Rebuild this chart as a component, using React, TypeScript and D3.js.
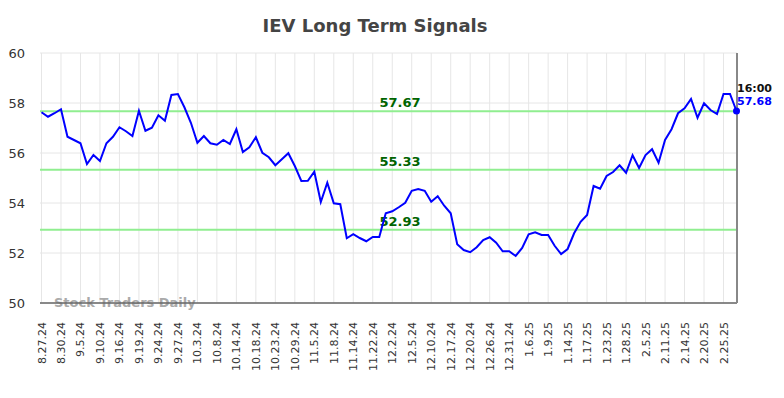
import React, { useEffect, useRef } from 'react';
import * as d3 from 'd3';

// axis labels, one every third session
const dateLabels = [
  '8.27.24', '8.30.24', '9.5.24', '9.10.24', '9.16.24', '9.19.24', '9.24.24', '9.27.24',
  '10.3.24', '10.8.24', '10.14.24', '10.18.24', '10.23.24', '10.29.24', '11.5.24', '11.8.24',
  '11.14.24', '11.22.24', '12.2.24', '12.5.24', '12.10.24', '12.17.24', '12.20.24', '12.26.24',
  '12.31.24', '1.6.25', '1.9.25', '1.14.25', '1.17.25', '1.23.25', '1.28.25', '2.5.25',
  '2.11.25', '2.14.25', '2.20.25', '2.25.25',
];

// closing prices
const prices = [
  57.63, 57.45, 57.59, 57.75, 56.65, 56.52, 56.39, 55.56, 55.92, 55.68,
  56.39, 56.65, 57.03, 56.87, 56.68, 57.69, 56.89, 57.01, 57.51, 57.29,
  58.32, 58.36, 57.83, 57.21, 56.41, 56.68, 56.39, 56.33, 56.52, 56.36,
  56.95, 56.04, 56.23, 56.63, 56.01, 55.83, 55.51, 55.75, 55.99, 55.48,
  54.88, 54.89, 55.25, 54.04, 54.81, 53.99, 53.95, 52.59, 52.75, 52.6,
  52.47, 52.64, 52.64, 53.59, 53.67, 53.83, 54.01, 54.49, 54.56, 54.49,
  54.05, 54.27, 53.89, 53.59, 52.35, 52.12, 52.03, 52.23, 52.52, 52.63,
  52.41, 52.07, 52.07, 51.88, 52.2, 52.75, 52.83, 52.72, 52.72, 52.29,
  51.96, 52.16, 52.79, 53.25, 53.52, 54.68, 54.57, 55.08, 55.24, 55.51,
  55.21, 55.91, 55.4, 55.92, 56.15, 55.61, 56.52, 56.95, 57.59, 57.79,
  58.16, 57.41, 57.99, 57.72, 57.56, 58.36, 58.36, 57.68,
];

const signalLevels = [57.67, 55.33, 52.93];
const yTicks = [50, 52, 54, 56, 58, 60];
const lastTime = '16:00';

const W = 784;
const H = 398;
const FONT = 'DejaVu Sans, sans-serif';

export default function App() {
  const ref = useRef<SVGSVGElement>(null);

  useEffect(() => {
    const svg = d3.select(ref.current);
    svg.selectAll('*').remove();

    const left = 40;
    const right = 737;
    const top = 53;
    const bottom = 303;

    const x = d3.scaleLinear().domain([0, prices.length - 1]).range([41.5, 736.5]);
    const y = d3.scaleLinear().domain([50, 60]).range([bottom, top]);

    // title
    svg.append('text')
      .attr('x', 375).attr('y', 32)
      .attr('text-anchor', 'middle')
      .style('font-family', FONT).style('font-size', '18px').style('font-weight', 'bold')
      .style('fill', '#444')
      .text('IEV Long Term Signals');

    // grid
    const grid = svg.append('g');
    grid.selectAll('.hg').data(yTicks).enter().append('line')
      .attr('x1', left).attr('x2', right)
      .attr('y1', d => y(d)).attr('y2', d => y(d))
      .attr('stroke', '#e6e6e6').attr('stroke-width', 1);
    grid.selectAll('.vg').data(dateLabels).enter().append('line')
      .attr('x1', (d, i) => x(i * 3)).attr('x2', (d, i) => x(i * 3))
      .attr('y1', top).attr('y2', bottom)
      .attr('stroke', '#e6e6e6').attr('stroke-width', 1);

    // y labels
    svg.selectAll('.yl').data(yTicks).enter().append('text')
      .attr('x', 25).attr('y', d => y(d))
      .attr('dy', '0.35em')
      .attr('text-anchor', 'end')
      .style('font-family', FONT).style('font-size', '13px').style('fill', '#333')
      .text(d => d);

    // x labels
    svg.selectAll('.xl').data(dateLabels).enter().append('text')
      .attr('transform', (d, i) => `translate(${x(i * 3) + 4},322) rotate(-90)`)
      .attr('text-anchor', 'end')
      .style('font-family', FONT).style('font-size', '11px').style('fill', '#333')
      .text(d => d);

    // signal levels
    svg.selectAll('.sl').data(signalLevels).enter().append('line')
      .attr('x1', left).attr('x2', right)
      .attr('y1', d => y(d)).attr('y2', d => y(d))
      .attr('stroke', '#90ee90').attr('stroke-width', 2);
    svg.selectAll('.slt').data(signalLevels).enter().append('text')
      .attr('x', 400).attr('y', d => y(d) - 4)
      .attr('text-anchor', 'middle')
      .style('font-family', FONT).style('font-size', '13px').style('font-weight', 'bold')
      .style('fill', '#006400')
      .text(d => d.toFixed(2));

    // watermark
    svg.append('text')
      .attr('x', 54).attr('y', 307)
      .style('font-family', FONT).style('font-size', '13px').style('font-weight', 'bold')
      .style('fill', '#aaa')
      .text('Stock Traders Daily');

    // price line
    const line = d3.line<number>()
      .x((d, i) => x(i))
      .y(d => y(d));
    svg.append('path')
      .datum(prices)
      .attr('d', line)
      .attr('fill', 'none')
      .attr('stroke', '#0000ff')
      .attr('stroke-width', 2);

    // axis + current marker line
    svg.append('line')
      .attr('x1', left).attr('x2', right)
      .attr('y1', bottom).attr('y2', bottom)
      .attr('stroke', '#666').attr('stroke-width', 1.5);
    svg.append('line')
      .attr('x1', right).attr('x2', right)
      .attr('y1', top).attr('y2', bottom)
      .attr('stroke', '#888').attr('stroke-width', 2);

    const last = prices[prices.length - 1];
    svg.append('circle')
      .attr('cx', x(prices.length - 1)).attr('cy', y(last))
      .attr('r', 3.5).attr('fill', '#0000ff');

    svg.append('text')
      .attr('x', 737).attr('y', 92)
      .style('font-family', FONT).style('font-size', '11px').style('font-weight', 'bold')
      .style('fill', '#111')
      .text(lastTime);
    svg.append('text')
      .attr('x', 737).attr('y', 105)
      .style('font-family', FONT).style('font-size', '11px').style('font-weight', 'bold')
      .style('fill', '#0000ff')
      .text(last.toFixed(2));
  }, []);

  return (
    <svg ref={ref} width={W} height={H}
      style={{ position: 'absolute', left: 0, top: 0, background: '#fff' }} />
  );
}
